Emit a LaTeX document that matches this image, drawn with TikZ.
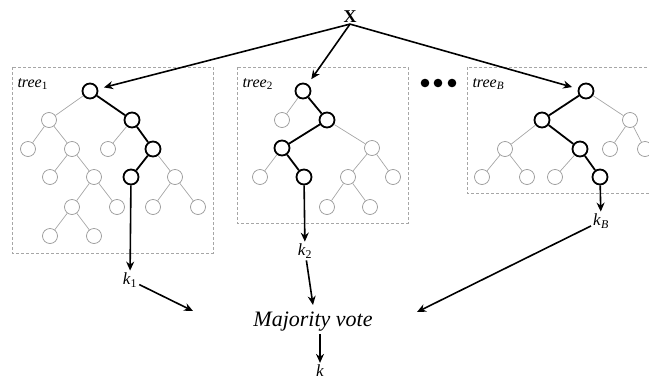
\documentclass[tikz,border=0pt]{standalone}
\usepackage{fontspec}
\setmainfont{Liberation Serif}
\usetikzlibrary{positioning, arrows.meta, calc}

\begin{document}
\begin{tikzpicture}[
    x=1pt, y=-1pt,
    leaf/.style={circle, draw=black!40, line width=0.7pt, minimum size=15pt, inner sep=0pt, fill=white},
    pathnode/.style={leaf, draw=black, line width=1.8pt},
    edge/.style={draw=black!35, line width=0.7pt},
    pathedge/.style={draw=black, line width=1.8pt},
    arrow/.style={-{Stealth[length=9pt, width=8pt]}, line width=1.6pt},
    treebox/.style={draw=black!35, dashed, dash pattern=on 3pt off 2pt, line width=0.6pt},
    every node/.style={font=\fontsize{17}{20}\selectfont}
]

\useasboundingbox (0,0) rectangle (649,381);

% Dashed frames round the trees
\draw[treebox] (12,67) rectangle (213,253);
\draw[treebox] (237,67) rectangle (408,223);
\draw[treebox] (467,67) rectangle (656,193);

% Tree 1 nodes
\foreach \n/\x/\y in {1/49/120, 3/28/149, 4/72/149, 5/108/149, 7/50/177, 8/94/177,
    10/175/177, 11/72/207, 12/117/207, 13/153/207, 14/198/207, 15/50/236, 16/94/236}
    \node[leaf] (a\n) at (\x,\y) {};
\foreach \n/\x/\y in {0/90/91, 2/132/120, 6/153/149, 9/131/177}
    \node[pathnode] (a\n) at (\x,\y) {};
\foreach \s/\t in {0/1, 1/3, 1/4, 2/5, 4/7, 4/8, 6/10, 8/11, 8/12, 10/13, 10/14, 11/15, 11/16}
    \draw[edge] (a\s) -- (a\t);
\foreach \s/\t in {0/2, 2/6, 6/9}
    \draw[pathedge] (a\s) -- (a\t);

% Tree 2 nodes
\foreach \n/\x/\y in {1/282/120, 4/372/148, 5/260/177, 7/348/177, 8/393/177, 9/327/207, 10/370/207}
    \node[leaf] (b\n) at (\x,\y) {};
\foreach \n/\x/\y in {0/303/91, 2/327/120, 3/282/148, 6/304/177}
    \node[pathnode] (b\n) at (\x,\y) {};
\foreach \s/\t in {0/1, 2/4, 3/5, 4/7, 4/8, 7/9, 7/10}
    \draw[edge] (b\s) -- (b\t);
\foreach \s/\t in {0/2, 2/3, 3/6}
    \draw[pathedge] (b\s) -- (b\t);

% Tree B nodes
\foreach \n/\x/\y in {2/630/120, 3/505/149, 5/610/149, 6/645/149, 7/482/177, 8/527/177, 9/555/177}
    \node[leaf] (c\n) at (\x,\y) {};
\foreach \n/\x/\y in {0/586/91, 1/542/120, 4/580/149, 10/600/177}
    \node[pathnode] (c\n) at (\x,\y) {};
\foreach \s/\t in {0/2, 1/3, 2/5, 2/6, 3/7, 3/8, 4/9}
    \draw[edge] (c\s) -- (c\t);
\foreach \s/\t in {0/1, 1/4, 4/10}
    \draw[pathedge] (c\s) -- (c\t);

% Labels of the trees
\node[anchor=west, font=\fontsize{16}{19}\selectfont] (lbl1) at (14,84) {\textit{tree}\textsubscript{1}};
\node[anchor=west, font=\fontsize{16}{19}\selectfont] (lbl2) at (239,84) {\textit{tree}\textsubscript{2}};
\node[anchor=west, font=\fontsize{16}{19}\selectfont] (lblB) at (469,84) {\textit{tree}\textsubscript{\textit{B}}};

% Dots between tree 2 and tree B
\foreach \x in {425,438,452}
    \fill (\x,83) circle (4.3);

% Input and outputs
\node[font=\fontsize{18}{20}\selectfont\bfseries, inner sep=1pt] (in) at (350,17) {X};
\node[inner sep=2pt] (k1) at (130,280) {\textit{k}\textsubscript{1}};
\node[inner sep=2pt] (k2) at (305,251) {\textit{k}\textsubscript{2}};
\node[inner sep=2pt] (kB) at (601,221) {\textit{k}\textsubscript{\textit{B}}};
\node[font=\fontsize{22}{26}\selectfont\itshape, inner sep=2pt] (vote) at (313,322) {Majority vote};
\node[inner sep=2pt] (k) at (320,371) {\textit{k}};

% Arrow ends round the vote
\coordinate (voteL) at ([shift={(-120,-11)}]vote.center);
\coordinate (voteT) at ([shift={(0,-17)}]vote.center);
\coordinate (voteR) at ([shift={(104,-10)}]vote.center);

% From the input to every root
\draw[arrow, shorten >=6pt] (in.south) -- (a0);
\draw[arrow, shorten >=6pt] (in.south) -- (b0);
\draw[arrow, shorten >=6pt] (in.south) -- (c0);

% From the leaves to the votes
\draw[arrow] (a9) -- (k1);
\draw[arrow] (b6) -- (k2);
\draw[arrow] (c10) -- (kB);

% Votes to the result
\draw[arrow] (k1) -- (voteL);
\draw[arrow] (k2) -- (voteT);
\draw[arrow] (kB) -- (voteR);
\draw[arrow] (vote.south -| k) -- (k);

\end{tikzpicture}
\end{document}
